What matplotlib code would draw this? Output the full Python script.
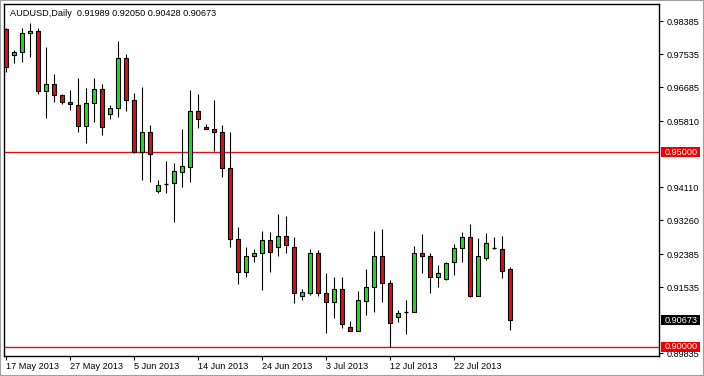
import matplotlib
matplotlib.use('Agg')
import matplotlib.pyplot as plt
from matplotlib.patches import Rectangle
import matplotlib.transforms as mtransforms
import pandas as pd

# ---- data ----
symbol_title = "AUDUSD,Daily  0.91989 0.92050 0.90428 0.90673"

opens = [0.98181, 0.97511, 0.97589, 0.98078, 0.98130, 0.96584, 0.96764, 0.96481, 0.96301, 0.96223,
         0.95682, 0.96275, 0.96635, 0.95991, 0.96146, 0.97434, 0.96352, 0.95013, 0.95528, 0.94008,
         0.94200, 0.94214, 0.94497, 0.94626, 0.96069, 0.95657, 0.95605, 0.95528, 0.94600, 0.92771,
         0.91921, 0.92334, 0.92411, 0.92746, 0.92565, 0.92849, 0.92565, 0.91303, 0.91380, 0.92411,
         0.91380, 0.91149, 0.91483, 0.90505, 0.90402, 0.91174, 0.91535, 0.92334, 0.91638, 0.90762,
         0.90880, 0.90891, 0.92411, 0.92334, 0.91793, 0.91741, 0.92179, 0.92540, 0.92823, 0.91303,
         0.92282, 0.92540, 0.92514, 0.91989]
highs = [0.98207, 0.97640, 0.98207, 0.98336, 0.98207, 0.97717, 0.97022, 0.96507, 0.96610, 0.96919,
         0.96661, 0.96919, 0.96764, 0.96223, 0.97872, 0.97537, 0.96532, 0.96687, 0.95708, 0.94291,
         0.94781, 0.94729, 0.95605, 0.96610, 0.96507, 0.95734, 0.96352, 0.95708, 0.95528, 0.93081,
         0.92565, 0.92514, 0.92978, 0.92952, 0.93415, 0.93364, 0.92823, 0.91483, 0.92514, 0.92488,
         0.91896, 0.91793, 0.91793, 0.90659, 0.91432, 0.91999, 0.92978, 0.93029, 0.91715, 0.90943,
         0.91200, 0.92591, 0.92900, 0.92411, 0.92102, 0.92179, 0.92643, 0.92952, 0.93158, 0.92797,
         0.92926, 0.92823, 0.92849, 0.92050]
lows = [0.97073, 0.97305, 0.97331, 0.97460, 0.96507, 0.95888, 0.96301, 0.96249, 0.96095, 0.95528,
        0.95244, 0.95785, 0.95451, 0.95863, 0.95914, 0.96069, 0.94990, 0.94291, 0.94240, 0.93956,
        0.93956, 0.93209, 0.94111, 0.94240, 0.95631, 0.95605, 0.95038, 0.94369, 0.92565, 0.91612,
        0.91793, 0.92179, 0.91458, 0.91921, 0.92334, 0.92411, 0.91123, 0.91200, 0.91329, 0.91303,
        0.90350, 0.90736, 0.90479, 0.90402, 0.90402, 0.90814, 0.90891, 0.91149, 0.89989, 0.90633,
        0.90324, 0.90891, 0.91896, 0.91380, 0.91535, 0.91715, 0.91844, 0.92179, 0.91277, 0.91303,
        0.92231, 0.92514, 0.91767, 0.90428]
closes = [0.97202, 0.97589, 0.98078, 0.98130, 0.96584, 0.96764, 0.96481, 0.96301, 0.96249, 0.95682,
          0.96275, 0.96635, 0.95657, 0.96146, 0.97434, 0.96352, 0.95013, 0.95528, 0.94961, 0.94163,
          0.94200, 0.94523, 0.94652, 0.96069, 0.95863, 0.95605, 0.95528, 0.94600, 0.92771, 0.91921,
          0.92334, 0.92411, 0.92746, 0.92437, 0.92849, 0.92617, 0.91380, 0.91406, 0.92411, 0.91380,
          0.91149, 0.91483, 0.90582, 0.90402, 0.91200, 0.91535, 0.92334, 0.91638, 0.90608, 0.90865,
          0.90880, 0.92411, 0.92334, 0.91793, 0.91896, 0.92153, 0.92540, 0.92823, 0.91303, 0.92334,
          0.92668, 0.92540, 0.91947, 0.90673]

# trading days (MT4 shows Sunday bars, no Saturdays)
all_days = pd.date_range('2013-05-17', '2013-07-30', freq='D')
dates = [d for d in all_days if d.weekday() != 5]

y_ticks = [0.98385, 0.97535, 0.96685, 0.95810, 0.94110, 0.93260, 0.92385, 0.91535, 0.89835]
hline_levels = [0.95000, 0.90000]
current_price = 0.90673
x_label_step = 8

# ---- style ----
FONT = 'Liberation Sans'
FS = 6.6
BULL = '#1fe01f'
BEAR = '#dc1010'
LINE_RED = '#e01010'

fig = plt.figure(figsize=(7.04, 3.76), dpi=100)
fig.patch.set_facecolor('white')
W, H = 704, 376
ax = fig.add_axes([4 / W, 1 - 356 / H, 655 / W, 352 / H])
ax.set_facecolor('white')

n = len(dates)
xs = list(range(n))
body_w = 0.5

# wicks
ax.vlines(xs, lows, highs, colors='black', linewidth=0.8, zorder=2)
# bodies
for i in xs:
    o, c = opens[i], closes[i]
    if abs(c - o) < 1e-7:
        ax.hlines(o, i - body_w / 2, i + body_w / 2, colors='black', linewidth=1.0, zorder=3)
        continue
    color = BULL if c > o else BEAR
    lo, hi = min(o, c), max(o, c)
    ax.add_patch(Rectangle((i - body_w / 2, lo), body_w, hi - lo,
                           facecolor=color, edgecolor='black', linewidth=0.8, zorder=3))

# horizontal lines
for lvl in hline_levels:
    ax.axhline(lvl, color=LINE_RED, linewidth=1.0, zorder=1)

ax.set_xlim((4 - 5.5) / 8, (659 - 5.5) / 8)
ax.set_ylim(0.89758, 0.98825)

# spines
for s in ax.spines.values():
    s.set_color('black')
    s.set_linewidth(1.0)

# y axis on the right
ax.yaxis.tick_right()
ax.set_yticks(y_ticks)
ax.set_yticklabels([f"{v:.5f}" for v in y_ticks], fontfamily=FONT, fontsize=FS, color='black')
ax.tick_params(axis='y', direction='out', length=3, width=0.8, pad=2.5, colors='black')

# x axis
xt = xs[::x_label_step]
ax.set_xticks(xt)
ax.set_xticklabels([f"{dates[i].day} {dates[i].strftime('%b %Y')}" for i in xt],
                   fontfamily=FONT, fontsize=FS, ha='left')
ax.tick_params(axis='x', direction='out', length=3, width=0.8, pad=1.5, colors='black')

# price labels boxes on the right axis
trans = mtransforms.blended_transform_factory(ax.transAxes, ax.transData)
box_h = 10 * (0.98825 - 0.89758) / 352
def price_box(val, fc):
    ax.add_patch(Rectangle((1 + 2 / 655, val - box_h / 2), 39 / 655, box_h,
                           transform=trans, facecolor=fc, edgecolor='none',
                           clip_on=False, zorder=5))
    ax.text(1 + 5.5 / 655, val, f"{val:.5f}", transform=trans, color='white',
            fontfamily=FONT, fontsize=FS, va='center', ha='left', zorder=6, clip_on=False)

for lvl in hline_levels:
    price_box(lvl, '#f00000')
price_box(current_price, 'black')

# title
fig.text(10 / W, 1 - 13 / H, symbol_title, fontfamily=FONT, fontsize=FS,
         color='black', ha='left', va='center')

# outer window frame
fig.add_artist(Rectangle((0, 0), 1, 1, transform=fig.transFigure, fill=False,
                         edgecolor='#a0a0a0', linewidth=1.5))

fig.savefig('out.png', dpi=100)
